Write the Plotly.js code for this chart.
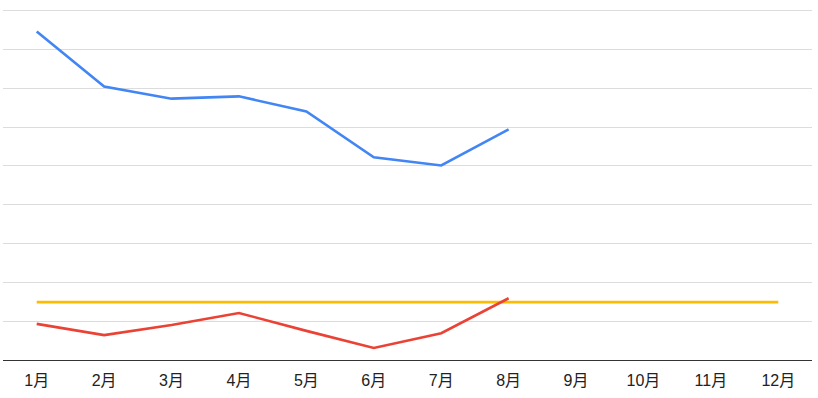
<!DOCTYPE html>
<html><head><meta charset="utf-8">
<script src="https://cdn.plot.ly/plotly-3.0.1.min.js"></script>
<style>html,body{margin:0;padding:0;background:#fff}#c{width:818px;height:398px}</style>
</head><body><div id="c"></div>
<script>
const months = ['1月','2月','3月','4月','5月','6月','7月','8月','9月','10月','11月','12月'];
const blueVals = [8.46, 7.04, 6.73, 6.79, 6.40, 5.22, 5.01, 5.94];
const redVals = [0.93, 0.64, 0.90, 1.21, 0.75, 0.31, 0.69, 1.59];
const targetVals = [1.49, 1.49, 1.49, 1.49, 1.49, 1.49, 1.49, 1.49, 1.49, 1.49, 1.49, 1.49];

const traces = [
  {x: months.slice(0, targetVals.length), y: targetVals, type:'scatter', mode:'lines', line:{color:'#FBBC04', width:2.6}, hoverinfo:'skip'},
  {x: months.slice(0, redVals.length), y: redVals, type:'scatter', mode:'lines', line:{color:'#EA4335', width:2.6}, hoverinfo:'skip'},
  {x: months.slice(0, blueVals.length), y: blueVals, type:'scatter', mode:'lines', line:{color:'#4285F4', width:2.6}, hoverinfo:'skip'}
];
const layout = {
  width: 818, height: 398,
  margin: {l:3, r:6, t:6, b:38},
  paper_bgcolor:'#fff', plot_bgcolor:'#fff',
  showlegend:false,
  font:{family:'Liberation Sans, Arial, sans-serif', size:16, color:'#222'},
  xaxis:{type:'category', categoryorder:'array', categoryarray: months, range:[-0.5, 11.5],
    showgrid:false, zeroline:false, showline:true, linecolor:'#333', linewidth:1.2,
    ticks:'', ticklabelstandoff:6, tickfont:{family:'Liberation Sans, Noto Sans CJK SC, sans-serif', size:16, color:'#222'}, fixedrange:true},
  yaxis:{range:[0, 9.116], dtick:1, tick0:0, showticklabels:false, showgrid:true, gridcolor:'#dcdcdc', gridwidth:1,
    zeroline:false, showline:false, ticks:'', fixedrange:true}
};
Plotly.newPlot('c', traces, layout, {displayModeBar:false, staticPlot:true});
</script></body></html>
